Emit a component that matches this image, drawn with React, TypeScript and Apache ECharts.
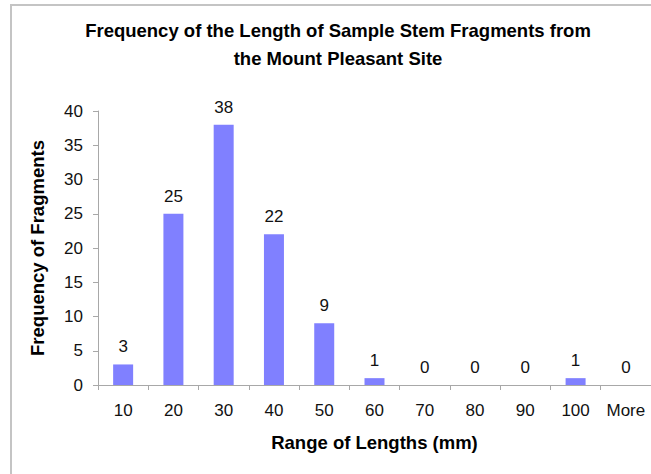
import React, { useEffect, useRef } from "react";
import * as echarts from "echarts";

const categories = ["10", "20", "30", "40", "50", "60", "70", "80", "90", "100", "More"];
const frequencies = [3, 25, 38, 22, 9, 1, 0, 0, 0, 1, 0];
const titleText = "Frequency of the Length of Sample Stem Fragments from\nthe Mount Pleasant Site";
const xName = "Range of Lengths (mm)";
const yName = "Frequency of Fragments";

const FONT = "'Liberation Sans', Arial, sans-serif";

export default function App() {
  const ref = useRef<HTMLDivElement>(null);
  useEffect(() => {
    if (!ref.current) return;
    const chart = echarts.init(ref.current, undefined, { renderer: "svg" });
    chart.setOption({
      animation: false,
      backgroundColor: "#ffffff",
      textStyle: { fontFamily: FONT },
      title: {
        text: titleText,
        left: 333,
        top: 11,
        textAlign: "center",
        textStyle: { fontFamily: FONT, fontSize: 18.5, fontWeight: "bold", color: "#000", lineHeight: 28 },
      },
      graphic: [
        {
          type: "rect",
          shape: { x: 11, y: 5, width: 700, height: 520 },
          style: { fill: "none", stroke: "#c4c4c4", lineWidth: 2 },
          silent: true,
        },
      ],
      grid: { left: 98, top: 111, width: 557, height: 274, containLabel: false },
      xAxis: {
        type: "category",
        data: categories,
        boundaryGap: true,
        name: xName,
        nameLocation: "middle",
        nameGap: 48,
        nameTextStyle: { fontFamily: FONT, fontSize: 18.5, fontWeight: "bold", color: "#000" },
        axisLine: { lineStyle: { color: "#a8a8a8", width: 1 } },
        axisTick: { show: true, length: 5, alignWithLabel: false, lineStyle: { color: "#a8a8a8" } },
        axisLabel: { fontFamily: FONT, fontSize: 17, color: "#111", margin: 17, interval: 0 },
        splitLine: { show: false },
      },
      yAxis: {
        type: "value",
        min: 0,
        max: 40,
        interval: 5,
        name: yName,
        nameLocation: "middle",
        nameGap: 51,
        nameTextStyle: { fontFamily: FONT, fontSize: 18.5, fontWeight: "bold", color: "#000" },
        axisLine: { show: true, lineStyle: { color: "#a8a8a8", width: 1 } },
        axisTick: { show: true, length: 5, inside: false, lineStyle: { color: "#a8a8a8" } },
        axisLabel: { fontFamily: FONT, fontSize: 17, color: "#111", margin: 15 },
        splitLine: { show: false },
      },
      series: [
        {
          type: "bar",
          data: frequencies,
          barWidth: 20,
          itemStyle: { color: "#8080ff", borderWidth: 0 },
          label: {
            show: true,
            position: "top",
            distance: 9,
            fontFamily: FONT,
            fontSize: 17,
            color: "#111",
          },
        },
      ],
    });
    return () => chart.dispose();
  }, []);
  return (
    <div
      ref={ref}
      style={{ position: "fixed", left: 0, top: 0, width: 651, height: 474, background: "#fff" }}
    />
  );
}
